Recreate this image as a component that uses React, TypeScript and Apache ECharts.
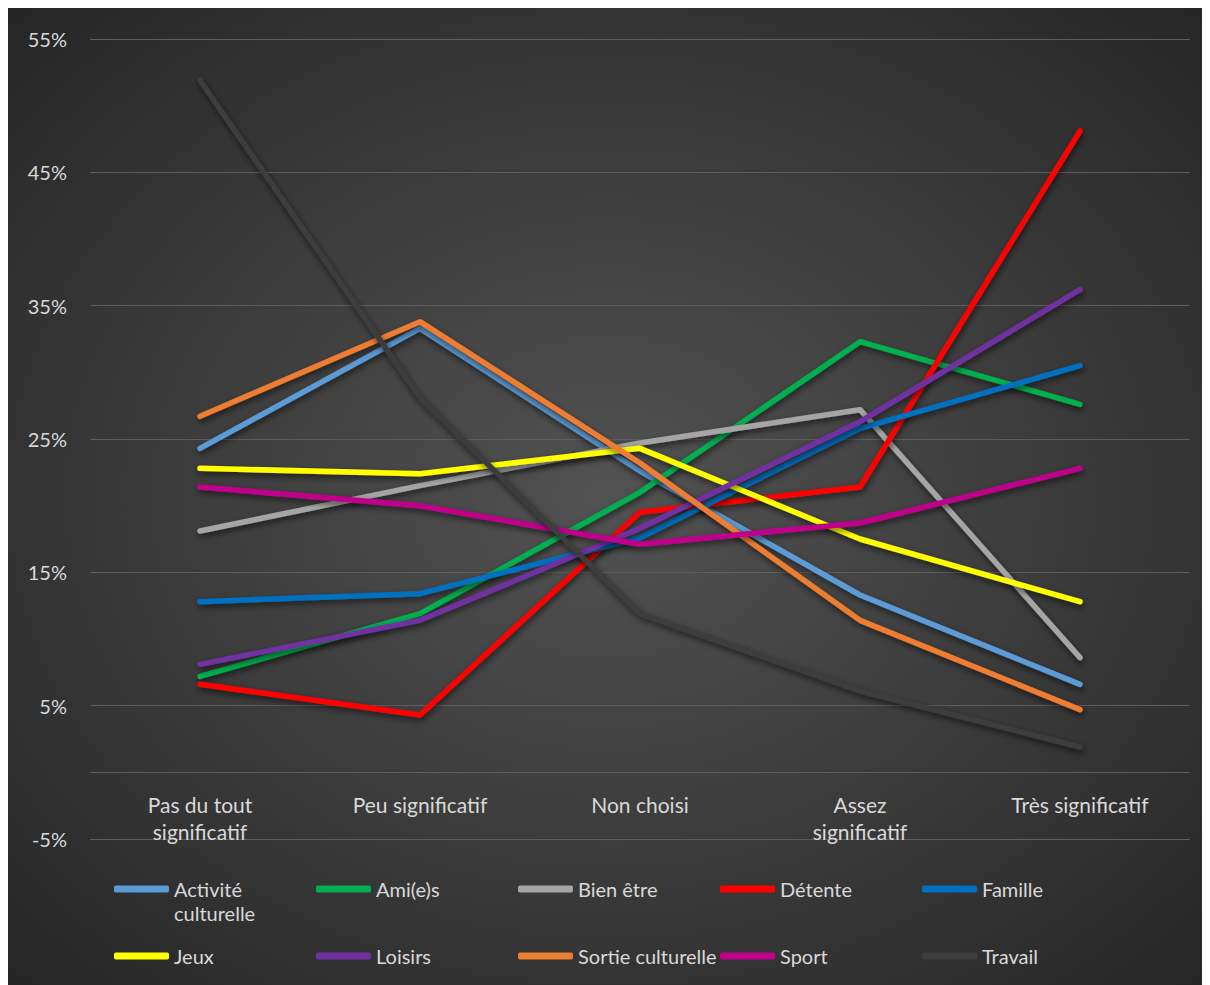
import React, { useEffect, useRef } from "react";
import * as echarts from "echarts";

const categories = ["Pas du tout\nsignificatif", "Peu significatif", "Non choisi", "Assez\nsignificatif", "Très significatif"];
const seriesNames = ["Activité culturelle", "Ami(e)s", "Bien être", "Détente", "Famille", "Jeux", "Loisirs", "Sortie culturelle", "Sport", "Travail"];
const seriesColors = ["#5B9BD5", "#00B050", "#A5A5A5", "#FF0000", "#0070C0", "#FFFF00", "#7030A0", "#ED7D31", "#C0008A", "#3C3C3C"];

const activiteCulturelle = [24.3, 33.3, 22.6, 13.3, 6.6];
const amies = [7.2, 11.9, 21.0, 32.3, 27.6];
const bienEtre = [18.1, 21.5, 24.7, 27.2, 8.6];
const detente = [6.6, 4.3, 19.5, 21.4, 48.1];
const famille = [12.8, 13.4, 17.6, 25.8, 30.5];
const jeux = [22.8, 22.4, 24.3, 17.5, 12.8];
const loisirs = [8.1, 11.4, 18.3, 26.3, 36.2];
const sortieCulturelle = [26.7, 33.8, 23.2, 11.4, 4.7];
const sport = [21.4, 20.0, 17.1, 18.7, 22.8];
const travail = [51.9, 28.1, 11.9, 6.1, 1.9];

const seriesData = [activiteCulturelle, amies, bienEtre, detente, famille, jeux, loisirs, sortieCulturelle, sport, travail];

const FONT = "Lato";
const TEXT_COLOR = "#D9D9D9";

const Y_MIN = -5;
const Y_MAX = 55;
const GRID_TOP = 31;
const GRID_BOTTOM = 146;
const CHART_H = 977;

export default function App() {
  const ref = useRef<HTMLDivElement>(null);
  useEffect(() => {
    if (!ref.current) return;
    const chart = echarts.init(ref.current, undefined, { renderer: "svg" });
    const colX = [106, 308, 510, 712, 914];
    const rowY = [881, 948];
    const gridH = CHART_H - GRID_TOP - GRID_BOTTOM;
    const zeroOffset = -((0 - Y_MIN) / (Y_MAX - Y_MIN)) * gridH;
    const legends = seriesNames.map((name, i) => ({
      data: [name],
      left: colX[i % 5],
      top: rowY[Math.floor(i / 5)] - 11,
      orient: "horizontal",
      padding: 0,
      icon: "roundRect",
      itemWidth: 55,
      itemHeight: 7,
      selectedMode: false,
      formatter: (n: string) => (n === "Activité culturelle" ? "Activité" : n),
      textStyle: { color: TEXT_COLOR, fontSize: 20, fontFamily: FONT, lineHeight: 22 },
    }));
    chart.setOption({
      animation: false,
      backgroundColor: {
        type: "radial",
        x: 0.5,
        y: 0.5,
        r: 0.75,
        colorStops: [
          { offset: 0, color: "#525252" },
          { offset: 1, color: "#232323" },
        ],
      },
      grid: { left: 82, right: 20, top: GRID_TOP, bottom: GRID_BOTTOM, containLabel: false },
      legend: legends,
      graphic: [
        {
          type: "text",
          left: colX[0] + 55 + 5,
          top: rowY[0] + 14,
          style: { text: "culturelle", fill: TEXT_COLOR, font: `20px ${FONT}` },
        },
      ],
      xAxis: {
        type: "category",
        data: categories,
        boundaryGap: true,
        position: "bottom",
        offset: zeroOffset,
        axisLine: { show: true, onZero: false, lineStyle: { color: "#5E5E5E", width: 1 } },
        axisTick: { show: false },
        axisLabel: { color: TEXT_COLOR, fontSize: 21, fontFamily: FONT, margin: 19, lineHeight: 27, interval: 0 },
        splitLine: { show: false },
      },
      yAxis: {
        type: "value",
        min: Y_MIN,
        max: Y_MAX,
        interval: 10,
        axisLine: { show: false },
        axisTick: { show: false },
        axisLabel: { color: TEXT_COLOR, fontSize: 20, fontFamily: FONT, margin: 23, formatter: (v: number) => v + "%" },
        splitLine: { show: true, lineStyle: { color: "#5E5E5E", width: 1 } },
      },
      series: seriesNames.map((name, i) => ({
        name,
        type: "line",
        data: seriesData[i],
        symbol: "none",
        color: seriesColors[i],
        lineStyle: {
          color: seriesColors[i],
          width: 5.5,
          cap: "round",
          join: "round",
          shadowColor: "rgba(0,0,0,0.6)",
          shadowBlur: 6,
          shadowOffsetX: 1,
          shadowOffsetY: 3,
        },
        emphasis: { disabled: true },
      })),
    });
    return () => chart.dispose();
  }, []);
  return <div ref={ref} style={{ width: 1202, height: 977 }} />;
}
